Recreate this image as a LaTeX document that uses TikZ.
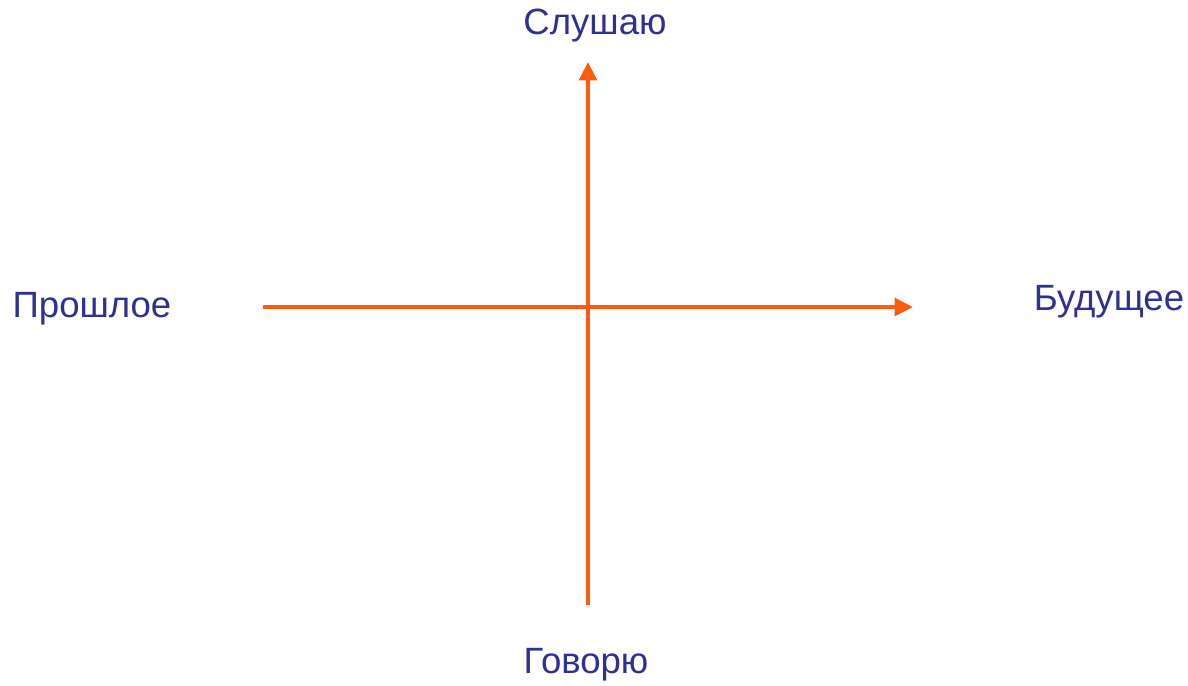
\documentclass[tikz,border=0pt]{standalone}
\usepackage{fontspec}
\setmainfont{Liberation Sans}
\usepackage{xcolor}
\usepackage{tikz}
\usetikzlibrary{arrows.meta,positioning}
\definecolor{axis}{HTML}{FF5B0F}
\definecolor{ink}{HTML}{2E3192}

\begin{document}
\begin{tikzpicture}[
    x=0.025cm, y=-0.025cm,
    lab/.style={text=ink, font=\fontsize{26}{31}\selectfont, inner sep=0pt},
    axisline/.style={draw=axis, line width=2.9pt,
                     -{Triangle[length=4.6mm, width=4.4mm]}},
  ]
  \useasboundingbox[fill=white] (0,0) rectangle (1188,685);

  \coordinate (vbot) at (588,605);
  \coordinate (vtop) at (588,62);
  \coordinate (hleft) at (263,307);
  \coordinate (hright) at (913,307);

  \node[lab] (listen) at (595,26) {Слушаю};
  \node[lab] (talk)   at (586,665) {Говорю};
  \node[lab] (past)   at (92,309) {Прошлое};
  \node[lab] (future) at (1109,302) {Будущее};

  \draw[axisline] (hleft) -- (hright);
  \draw[axisline] (vbot) -- (vtop);
\end{tikzpicture}
\end{document}
